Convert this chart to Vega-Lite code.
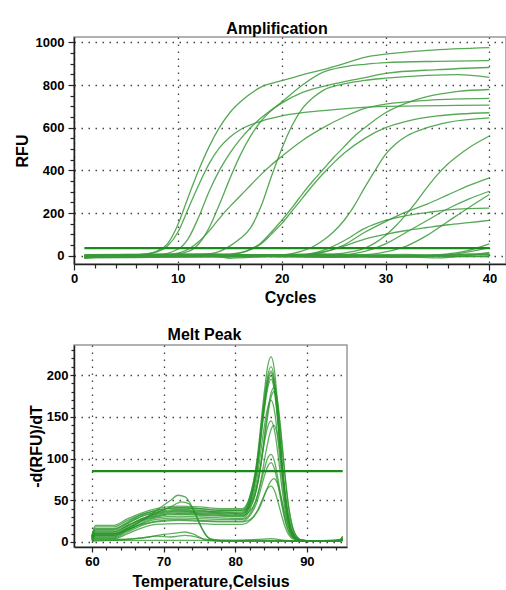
{
"$schema": "https://vega.github.io/schema/vega-lite/v6.json",
"padding": {"left": 13, "top": 20, "right": 0, "bottom": 0},
"background": "white",
"config": {
 "font": "Liberation Sans",
 "axis": {"labelFont": "Liberation Sans", "labelFontWeight": "bold", "labelFontSize": 13, "labelColor": "#000", "titleFont": "Liberation Sans", "titleFontWeight": "bold", "titleFontSize": 16, "titleColor": "#000", "domainColor": "#222", "domainWidth": 1.5, "tickColor": "#222", "tickWidth": 1.2, "gridColor": "#444", "gridDash": [1.5, 5.5], "gridWidth": 1.3, "labelFlush": false},
 "title": {"font": "Liberation Sans", "fontSize": 16, "fontWeight": "bold", "color": "#000", "offset": 2},
 "view": {"stroke": "#999", "strokeWidth": 1.5}
},
"datasets": {
"amp": [
{"s":"A","x":1,"y":0},{"s":"A","x":5,"y":2},{"s":"A","x":7,"y":8},{"s":"A","x":8,"y":22},{"s":"A","x":9,"y":55},{"s":"A","x":10,"y":145},{"s":"A","x":11,"y":275},{"s":"A","x":12,"y":400},{"s":"A","x":13,"y":510},{"s":"A","x":14,"y":600},{"s":"A","x":15,"y":670},{"s":"A","x":16,"y":720},{"s":"A","x":18,"y":790},{"s":"A","x":20,"y":820},{"s":"A","x":22,"y":848},{"s":"A","x":24,"y":872},{"s":"A","x":26,"y":900},{"s":"A","x":28,"y":930},{"s":"A","x":30,"y":945},{"s":"A","x":34,"y":962},{"s":"A","x":40,"y":975},
{"s":"B","x":1,"y":-2},{"s":"B","x":6,"y":4},{"s":"B","x":8,"y":18},{"s":"B","x":9,"y":45},{"s":"B","x":10,"y":110},{"s":"B","x":11,"y":220},{"s":"B","x":12,"y":330},{"s":"B","x":13,"y":430},{"s":"B","x":14,"y":505},{"s":"B","x":15,"y":555},{"s":"B","x":16,"y":590},{"s":"B","x":18,"y":630},{"s":"B","x":20,"y":655},{"s":"B","x":24,"y":680},{"s":"B","x":30,"y":700},{"s":"B","x":40,"y":706},
{"s":"C","x":1,"y":-5},{"s":"C","x":9,"y":3},{"s":"C","x":11,"y":20},{"s":"C","x":12,"y":55},{"s":"C","x":13,"y":130},{"s":"C","x":14,"y":240},{"s":"C","x":15,"y":360},{"s":"C","x":16,"y":470},{"s":"C","x":17,"y":560},{"s":"C","x":18,"y":630},{"s":"C","x":19,"y":680},{"s":"C","x":20,"y":720},{"s":"C","x":22,"y":800},{"s":"C","x":24,"y":860},{"s":"C","x":26,"y":885},{"s":"C","x":28,"y":897},{"s":"C","x":30,"y":905},{"s":"C","x":35,"y":911},{"s":"C","x":40,"y":914},
{"s":"D","x":1,"y":0},{"s":"D","x":8,"y":4},{"s":"D","x":10,"y":30},{"s":"D","x":11,"y":80},{"s":"D","x":12,"y":180},{"s":"D","x":13,"y":300},{"s":"D","x":14,"y":400},{"s":"D","x":15,"y":480},{"s":"D","x":16,"y":545},{"s":"D","x":17,"y":600},{"s":"D","x":18,"y":645},{"s":"D","x":20,"y":715},{"s":"D","x":22,"y":765},{"s":"D","x":25,"y":805},{"s":"D","x":28,"y":835},{"s":"D","x":30,"y":855},{"s":"D","x":35,"y":872},{"s":"D","x":40,"y":882},
{"s":"E","x":1,"y":-8},{"s":"E","x":12,"y":3},{"s":"E","x":14,"y":20},{"s":"E","x":15,"y":45},{"s":"E","x":16,"y":80},{"s":"E","x":17,"y":130},{"s":"E","x":18,"y":230},{"s":"E","x":19,"y":370},{"s":"E","x":20,"y":500},{"s":"E","x":21,"y":610},{"s":"E","x":22,"y":690},{"s":"E","x":23,"y":740},{"s":"E","x":24,"y":775},{"s":"E","x":26,"y":805},{"s":"E","x":28,"y":822},{"s":"E","x":30,"y":832},{"s":"E","x":34,"y":845},{"s":"E","x":37,"y":849},{"s":"E","x":40,"y":836},
{"s":"P","x":1,"y":2},{"s":"P","x":9,"y":5},{"s":"P","x":10,"y":12},{"s":"P","x":11,"y":30},{"s":"P","x":12,"y":65},{"s":"P","x":13,"y":115},{"s":"P","x":14,"y":175},{"s":"P","x":15,"y":230},{"s":"P","x":16,"y":280},{"s":"P","x":17,"y":330},{"s":"P","x":18,"y":380},{"s":"P","x":19,"y":425},{"s":"P","x":20,"y":465},{"s":"P","x":22,"y":540},{"s":"P","x":24,"y":600},{"s":"P","x":26,"y":650},{"s":"P","x":28,"y":690},{"s":"P","x":30,"y":710},{"s":"P","x":34,"y":728},{"s":"P","x":40,"y":737},
{"s":"F1","x":1,"y":-3},{"s":"F1","x":14,"y":4},{"s":"F1","x":16,"y":14},{"s":"F1","x":17,"y":30},{"s":"F1","x":18,"y":60},{"s":"F1","x":19,"y":110},{"s":"F1","x":20,"y":165},{"s":"F1","x":21,"y":225},{"s":"F1","x":22,"y":290},{"s":"F1","x":23,"y":350},{"s":"F1","x":24,"y":405},{"s":"F1","x":25,"y":460},{"s":"F1","x":26,"y":510},{"s":"F1","x":27,"y":560},{"s":"F1","x":28,"y":600},{"s":"F1","x":30,"y":670},{"s":"F1","x":32,"y":715},{"s":"F1","x":34,"y":745},{"s":"F1","x":37,"y":770},{"s":"F1","x":40,"y":779},
{"s":"F2","x":1,"y":0},{"s":"F2","x":15,"y":5},{"s":"F2","x":16,"y":12},{"s":"F2","x":17,"y":28},{"s":"F2","x":18,"y":55},{"s":"F2","x":19,"y":100},{"s":"F2","x":20,"y":150},{"s":"F2","x":21,"y":210},{"s":"F2","x":22,"y":270},{"s":"F2","x":23,"y":330},{"s":"F2","x":24,"y":385},{"s":"F2","x":25,"y":435},{"s":"F2","x":26,"y":480},{"s":"F2","x":28,"y":550},{"s":"F2","x":30,"y":600},{"s":"F2","x":32,"y":630},{"s":"F2","x":35,"y":655},{"s":"F2","x":40,"y":670},
{"s":"G","x":1,"y":-4},{"s":"G","x":20,"y":4},{"s":"G","x":22,"y":22},{"s":"G","x":23,"y":42},{"s":"G","x":24,"y":72},{"s":"G","x":25,"y":112},{"s":"G","x":26,"y":165},{"s":"G","x":27,"y":235},{"s":"G","x":28,"y":320},{"s":"G","x":29,"y":400},{"s":"G","x":30,"y":475},{"s":"G","x":31,"y":525},{"s":"G","x":32,"y":560},{"s":"G","x":34,"y":600},{"s":"G","x":36,"y":625},{"s":"G","x":40,"y":646},
{"s":"H","x":1,"y":-6},{"s":"H","x":24,"y":3},{"s":"H","x":26,"y":12},{"s":"H","x":28,"y":35},{"s":"H","x":29,"y":60},{"s":"H","x":30,"y":95},{"s":"H","x":31,"y":140},{"s":"H","x":32,"y":195},{"s":"H","x":33,"y":255},{"s":"H","x":34,"y":320},{"s":"H","x":35,"y":380},{"s":"H","x":36,"y":430},{"s":"H","x":37,"y":470},{"s":"H","x":38,"y":505},{"s":"H","x":40,"y":561},
{"s":"I","x":1,"y":-2},{"s":"I","x":22,"y":3},{"s":"I","x":24,"y":15},{"s":"I","x":26,"y":50},{"s":"I","x":28,"y":110},{"s":"I","x":30,"y":160},{"s":"I","x":32,"y":205},{"s":"I","x":34,"y":242},{"s":"I","x":36,"y":285},{"s":"I","x":38,"y":328},{"s":"I","x":40,"y":365},
{"s":"J","x":1,"y":-5},{"s":"J","x":22,"y":5},{"s":"J","x":24,"y":25},{"s":"J","x":26,"y":70},{"s":"J","x":28,"y":128},{"s":"J","x":30,"y":165},{"s":"J","x":32,"y":188},{"s":"J","x":34,"y":202},{"s":"J","x":36,"y":215},{"s":"J","x":38,"y":221},{"s":"J","x":40,"y":223},
{"s":"K","x":1,"y":-7},{"s":"K","x":26,"y":5},{"s":"K","x":28,"y":20},{"s":"K","x":30,"y":55},{"s":"K","x":32,"y":110},{"s":"K","x":34,"y":165},{"s":"K","x":36,"y":220},{"s":"K","x":38,"y":265},{"s":"K","x":40,"y":302},
{"s":"L","x":1,"y":-10},{"s":"L","x":28,"y":5},{"s":"L","x":30,"y":18},{"s":"L","x":32,"y":45},{"s":"L","x":34,"y":95},{"s":"L","x":36,"y":160},{"s":"L","x":38,"y":225},{"s":"L","x":40,"y":287},
{"s":"M","x":1,"y":3},{"s":"M","x":22,"y":4},{"s":"M","x":24,"y":18},{"s":"M","x":26,"y":45},{"s":"M","x":28,"y":78},{"s":"M","x":30,"y":100},{"s":"M","x":32,"y":118},{"s":"M","x":34,"y":132},{"s":"M","x":36,"y":145},{"s":"M","x":38,"y":155},{"s":"M","x":40,"y":165},
{"s":"N","x":1,"y":-4},{"s":"N","x":30,"y":-3},{"s":"N","x":34,"y":0},{"s":"N","x":36,"y":8},{"s":"N","x":38,"y":25},{"s":"N","x":40,"y":55},
{"s":"N0","x":1,"y":-6},{"s":"N0","x":30,"y":-4},{"s":"N0","x":35,"y":2},{"s":"N0","x":37,"y":10},{"s":"N0","x":40,"y":38},
{"s":"N1","x":1,"y":-8},{"s":"N1","x":3,"y":-3},{"s":"N1","x":5,"y":0},{"s":"N1","x":8,"y":3},{"s":"N1","x":10,"y":5},{"s":"N1","x":12,"y":2},{"s":"N1","x":14,"y":-5},{"s":"N1","x":15,"y":-12},{"s":"N1","x":16,"y":-10},{"s":"N1","x":18,"y":-5},{"s":"N1","x":20,"y":0},{"s":"N1","x":22,"y":3},{"s":"N1","x":25,"y":5},{"s":"N1","x":28,"y":0},{"s":"N1","x":30,"y":2},{"s":"N1","x":33,"y":-3},{"s":"N1","x":36,"y":2},{"s":"N1","x":38,"y":8},{"s":"N1","x":40,"y":10},
{"s":"N2","x":1,"y":-3},{"s":"N2","x":4,"y":2},{"s":"N2","x":7,"y":5},{"s":"N2","x":10,"y":8},{"s":"N2","x":13,"y":10},{"s":"N2","x":16,"y":5},{"s":"N2","x":19,"y":2},{"s":"N2","x":22,"y":-3},{"s":"N2","x":25,"y":-5},{"s":"N2","x":28,"y":-2},{"s":"N2","x":31,"y":0},{"s":"N2","x":34,"y":3},{"s":"N2","x":37,"y":5},{"s":"N2","x":40,"y":3},
{"s":"N3","x":1,"y":-10},{"s":"N3","x":3,"y":-5},{"s":"N3","x":6,"y":0},{"s":"N3","x":9,"y":-2},{"s":"N3","x":12,"y":0},{"s":"N3","x":15,"y":3},{"s":"N3","x":18,"y":5},{"s":"N3","x":21,"y":3},{"s":"N3","x":24,"y":0},{"s":"N3","x":27,"y":-5},{"s":"N3","x":30,"y":-8},{"s":"N3","x":33,"y":-5},{"s":"N3","x":36,"y":-3},{"s":"N3","x":40,"y":-5},
{"s":"N4","x":1,"y":5},{"s":"N4","x":5,"y":6},{"s":"N4","x":10,"y":4},{"s":"N4","x":15,"y":0},{"s":"N4","x":20,"y":-5},{"s":"N4","x":25,"y":-8},{"s":"N4","x":30,"y":-3},{"s":"N4","x":35,"y":-10},{"s":"N4","x":40,"y":15},
{"s":"N5","x":1,"y":-12},{"s":"N5","x":3,"y":-6},{"s":"N5","x":6,"y":-2},{"s":"N5","x":10,"y":0},{"s":"N5","x":14,"y":-3},{"s":"N5","x":18,"y":2},{"s":"N5","x":22,"y":6},{"s":"N5","x":26,"y":2},{"s":"N5","x":30,"y":-2},{"s":"N5","x":34,"y":1},{"s":"N5","x":37,"y":-4},{"s":"N5","x":40,"y":-2},
{"s":"N6","x":1,"y":0},{"s":"N6","x":4,"y":4},{"s":"N6","x":8,"y":7},{"s":"N6","x":12,"y":4},{"s":"N6","x":16,"y":-2},{"s":"N6","x":20,"y":4},{"s":"N6","x":24,"y":8},{"s":"N6","x":28,"y":4},{"s":"N6","x":32,"y":6},{"s":"N6","x":36,"y":0},{"s":"N6","x":40,"y":6}
],
"ampThr": [{"s":"T","x":1,"y":35},{"s":"T","x":40,"y":35}],
"melt": [
{"s":"m1","x":60,"y":7},{"s":"m1","x":60.5,"y":18},{"s":"m1","x":63,"y":18},{"s":"m1","x":65,"y":26},{"s":"m1","x":67,"y":33},{"s":"m1","x":69,"y":38},{"s":"m1","x":72,"y":41},{"s":"m1","x":75,"y":40},{"s":"m1","x":78,"y":38},{"s":"m1","x":81,"y":38},{"s":"m1","x":82,"y":53},{"s":"m1","x":83,"y":96},{"s":"m1","x":84,"y":175},{"s":"m1","x":84.5,"y":209},{"s":"m1","x":85,"y":222},{"s":"m1","x":85.5,"y":204},{"s":"m1","x":86,"y":157},{"s":"m1","x":86.5,"y":102},{"s":"m1","x":87,"y":55},{"s":"m1","x":88,"y":11},{"s":"m1","x":89,"y":2},{"s":"m1","x":92,"y":1},{"s":"m1","x":94.5,"y":2},{"s":"m1","x":95,"y":6},
{"s":"m2","x":60,"y":6},{"s":"m2","x":60.5,"y":14},{"s":"m2","x":63,"y":14},{"s":"m2","x":65,"y":22},{"s":"m2","x":67,"y":31},{"s":"m2","x":69,"y":36},{"s":"m2","x":72,"y":39},{"s":"m2","x":75,"y":38},{"s":"m2","x":78,"y":36},{"s":"m2","x":81,"y":36},{"s":"m2","x":82,"y":50},{"s":"m2","x":83,"y":91},{"s":"m2","x":84,"y":166},{"s":"m2","x":84.5,"y":198},{"s":"m2","x":85,"y":210},{"s":"m2","x":85.5,"y":193},{"s":"m2","x":86,"y":148},{"s":"m2","x":86.5,"y":96},{"s":"m2","x":87,"y":52},{"s":"m2","x":88,"y":10},{"s":"m2","x":89,"y":2},{"s":"m2","x":92,"y":1},{"s":"m2","x":95,"y":2},
{"s":"m3","x":60,"y":4},{"s":"m3","x":60.5,"y":10},{"s":"m3","x":63,"y":10},{"s":"m3","x":65,"y":19},{"s":"m3","x":67,"y":28},{"s":"m3","x":69,"y":34},{"s":"m3","x":72,"y":37},{"s":"m3","x":75,"y":36},{"s":"m3","x":78,"y":35},{"s":"m3","x":81,"y":34},{"s":"m3","x":82,"y":48},{"s":"m3","x":83,"y":87},{"s":"m3","x":84,"y":160},{"s":"m3","x":84.5,"y":191},{"s":"m3","x":85,"y":203},{"s":"m3","x":85.5,"y":186},{"s":"m3","x":86,"y":144},{"s":"m3","x":86.5,"y":93},{"s":"m3","x":87,"y":51},{"s":"m3","x":88,"y":10},{"s":"m3","x":89,"y":2},{"s":"m3","x":92,"y":1},{"s":"m3","x":94.5,"y":1},{"s":"m3","x":95,"y":5},
{"s":"m4","x":60,"y":5},{"s":"m4","x":60.5,"y":12},{"s":"m4","x":63,"y":12},{"s":"m4","x":65,"y":20},{"s":"m4","x":67,"y":28},{"s":"m4","x":69,"y":33},{"s":"m4","x":72,"y":36},{"s":"m4","x":75,"y":35},{"s":"m4","x":78,"y":34},{"s":"m4","x":81,"y":33},{"s":"m4","x":82,"y":47},{"s":"m4","x":83,"y":85},{"s":"m4","x":84,"y":157},{"s":"m4","x":84.5,"y":187},{"s":"m4","x":85,"y":199},{"s":"m4","x":85.5,"y":182},{"s":"m4","x":86,"y":141},{"s":"m4","x":86.5,"y":91},{"s":"m4","x":87,"y":50},{"s":"m4","x":88,"y":10},{"s":"m4","x":89,"y":2},{"s":"m4","x":92,"y":1},{"s":"m4","x":95,"y":2},
{"s":"m5","x":60,"y":3},{"s":"m5","x":60.5,"y":8},{"s":"m5","x":63,"y":8},{"s":"m5","x":65,"y":17},{"s":"m5","x":67,"y":26},{"s":"m5","x":69,"y":31},{"s":"m5","x":72,"y":34},{"s":"m5","x":75,"y":33},{"s":"m5","x":78,"y":32},{"s":"m5","x":81,"y":31},{"s":"m5","x":82,"y":44},{"s":"m5","x":83,"y":83},{"s":"m5","x":84,"y":154},{"s":"m5","x":84.5,"y":183},{"s":"m5","x":85,"y":195},{"s":"m5","x":85.5,"y":179},{"s":"m5","x":86,"y":138},{"s":"m5","x":86.5,"y":89},{"s":"m5","x":87,"y":49},{"s":"m5","x":88,"y":10},{"s":"m5","x":89,"y":2},{"s":"m5","x":92,"y":1},{"s":"m5","x":95,"y":2},
{"s":"m6","x":60,"y":6},{"s":"m6","x":60.5,"y":16},{"s":"m6","x":63,"y":16},{"s":"m6","x":65,"y":23},{"s":"m6","x":67,"y":31},{"s":"m6","x":69,"y":35},{"s":"m6","x":72,"y":38},{"s":"m6","x":75,"y":37},{"s":"m6","x":78,"y":36},{"s":"m6","x":81,"y":35},{"s":"m6","x":82.4,"y":47},{"s":"m6","x":83.4,"y":81},{"s":"m6","x":84.4,"y":143},{"s":"m6","x":84.9,"y":170},{"s":"m6","x":85.4,"y":180},{"s":"m6","x":85.9,"y":165},{"s":"m6","x":86.4,"y":127},{"s":"m6","x":86.9,"y":82},{"s":"m6","x":87.4,"y":45},{"s":"m6","x":88.4,"y":9},{"s":"m6","x":89.4,"y":2},{"s":"m6","x":92,"y":1},{"s":"m6","x":94.5,"y":2},{"s":"m6","x":95,"y":7},
{"s":"m7","x":60,"y":4},{"s":"m7","x":60.5,"y":9},{"s":"m7","x":63,"y":9},{"s":"m7","x":65,"y":17},{"s":"m7","x":67,"y":25},{"s":"m7","x":69,"y":30},{"s":"m7","x":72,"y":33},{"s":"m7","x":75,"y":32},{"s":"m7","x":78,"y":31},{"s":"m7","x":81,"y":30},{"s":"m7","x":82,"y":42},{"s":"m7","x":83,"y":74},{"s":"m7","x":84,"y":135},{"s":"m7","x":84.5,"y":160},{"s":"m7","x":85,"y":170},{"s":"m7","x":85.5,"y":156},{"s":"m7","x":86,"y":120},{"s":"m7","x":86.5,"y":78},{"s":"m7","x":87,"y":42},{"s":"m7","x":88,"y":8},{"s":"m7","x":89,"y":2},{"s":"m7","x":92,"y":1},{"s":"m7","x":95,"y":2},
{"s":"m8","x":60,"y":2},{"s":"m8","x":60.5,"y":6},{"s":"m8","x":63,"y":6},{"s":"m8","x":65,"y":14},{"s":"m8","x":67,"y":23},{"s":"m8","x":69,"y":29},{"s":"m8","x":72,"y":31},{"s":"m8","x":75,"y":30},{"s":"m8","x":78,"y":29},{"s":"m8","x":81,"y":28},{"s":"m8","x":82,"y":38},{"s":"m8","x":83,"y":65},{"s":"m8","x":84,"y":116},{"s":"m8","x":84.5,"y":137},{"s":"m8","x":85,"y":145},{"s":"m8","x":85.5,"y":133},{"s":"m8","x":86,"y":103},{"s":"m8","x":86.5,"y":66},{"s":"m8","x":87,"y":36},{"s":"m8","x":88,"y":7},{"s":"m8","x":89,"y":2},{"s":"m8","x":92,"y":1},{"s":"m8","x":94.5,"y":1},{"s":"m8","x":95,"y":4},
{"s":"m9","x":60,"y":5},{"s":"m9","x":60.5,"y":12},{"s":"m9","x":63,"y":12},{"s":"m9","x":65,"y":20},{"s":"m9","x":67,"y":27},{"s":"m9","x":69,"y":32},{"s":"m9","x":72,"y":35},{"s":"m9","x":75,"y":34},{"s":"m9","x":78,"y":33},{"s":"m9","x":81,"y":32},{"s":"m9","x":82.4,"y":41},{"s":"m9","x":83.4,"y":66},{"s":"m9","x":84.4,"y":113},{"s":"m9","x":84.9,"y":132},{"s":"m9","x":85.4,"y":140},{"s":"m9","x":85.9,"y":128},{"s":"m9","x":86.4,"y":99},{"s":"m9","x":86.9,"y":64},{"s":"m9","x":87.4,"y":35},{"s":"m9","x":88.4,"y":7},{"s":"m9","x":89.4,"y":2},{"s":"m9","x":92,"y":1},{"s":"m9","x":95,"y":2},
{"s":"m10","x":60,"y":3},{"s":"m10","x":60.5,"y":7},{"s":"m10","x":63,"y":7},{"s":"m10","x":65,"y":14},{"s":"m10","x":67,"y":22},{"s":"m10","x":69,"y":27},{"s":"m10","x":72,"y":29},{"s":"m10","x":75,"y":28},{"s":"m10","x":78,"y":27},{"s":"m10","x":81,"y":27},{"s":"m10","x":82,"y":33},{"s":"m10","x":83,"y":52},{"s":"m10","x":84,"y":85},{"s":"m10","x":84.5,"y":100},{"s":"m10","x":85,"y":105},{"s":"m10","x":85.5,"y":96},{"s":"m10","x":86,"y":74},{"s":"m10","x":86.5,"y":48},{"s":"m10","x":87,"y":26},{"s":"m10","x":88,"y":6},{"s":"m10","x":89,"y":2},{"s":"m10","x":92,"y":1},{"s":"m10","x":95,"y":2},
{"s":"m11","x":60,"y":2},{"s":"m11","x":60.5,"y":5},{"s":"m11","x":63,"y":5},{"s":"m11","x":65,"y":12},{"s":"m11","x":67,"y":20},{"s":"m11","x":69,"y":25},{"s":"m11","x":72,"y":27},{"s":"m11","x":75,"y":26},{"s":"m11","x":78,"y":25},{"s":"m11","x":81,"y":25},{"s":"m11","x":82,"y":31},{"s":"m11","x":83,"y":47},{"s":"m11","x":84,"y":77},{"s":"m11","x":84.5,"y":90},{"s":"m11","x":85,"y":95},{"s":"m11","x":85.5,"y":87},{"s":"m11","x":86,"y":67},{"s":"m11","x":86.5,"y":44},{"s":"m11","x":87,"y":24},{"s":"m11","x":88,"y":5},{"s":"m11","x":89,"y":2},{"s":"m11","x":92,"y":1},{"s":"m11","x":95,"y":2},
{"s":"m12","x":60,"y":4},{"s":"m12","x":60.5,"y":10},{"s":"m12","x":63,"y":10},{"s":"m12","x":65,"y":15},{"s":"m12","x":67,"y":21},{"s":"m12","x":69,"y":24},{"s":"m12","x":72,"y":26},{"s":"m12","x":75,"y":25},{"s":"m12","x":78,"y":24},{"s":"m12","x":81,"y":24},{"s":"m12","x":82.4,"y":29},{"s":"m12","x":83.4,"y":41},{"s":"m12","x":84.4,"y":63},{"s":"m12","x":84.9,"y":72},{"s":"m12","x":85.4,"y":76},{"s":"m12","x":85.9,"y":70},{"s":"m12","x":86.4,"y":54},{"s":"m12","x":86.9,"y":35},{"s":"m12","x":87.4,"y":19},{"s":"m12","x":88.4,"y":4},{"s":"m12","x":89.4,"y":2},{"s":"m12","x":92,"y":1},{"s":"m12","x":95,"y":2},
{"s":"m13","x":60,"y":2},{"s":"m13","x":60.5,"y":4},{"s":"m13","x":63,"y":4},{"s":"m13","x":65,"y":10},{"s":"m13","x":67,"y":17},{"s":"m13","x":69,"y":21},{"s":"m13","x":72,"y":22},{"s":"m13","x":75,"y":22},{"s":"m13","x":78,"y":21},{"s":"m13","x":81,"y":21},{"s":"m13","x":82,"y":25},{"s":"m13","x":83,"y":36},{"s":"m13","x":84,"y":55},{"s":"m13","x":84.5,"y":64},{"s":"m13","x":85,"y":67},{"s":"m13","x":85.5,"y":61},{"s":"m13","x":86,"y":47},{"s":"m13","x":86.5,"y":31},{"s":"m13","x":87,"y":17},{"s":"m13","x":88,"y":4},{"s":"m13","x":89,"y":2},{"s":"m13","x":92,"y":1},{"s":"m13","x":95,"y":2},
{"s":"m14","x":60,"y":6},{"s":"m14","x":60.5,"y":15},{"s":"m14","x":63,"y":15},{"s":"m14","x":65,"y":24},{"s":"m14","x":67,"y":33},{"s":"m14","x":69,"y":38},{"s":"m14","x":72,"y":41},{"s":"m14","x":75,"y":40},{"s":"m14","x":78,"y":38},{"s":"m14","x":81,"y":38},{"s":"m14","x":82.4,"y":50},{"s":"m14","x":83.4,"y":84},{"s":"m14","x":84.4,"y":148},{"s":"m14","x":84.9,"y":175},{"s":"m14","x":85.4,"y":185},{"s":"m14","x":85.9,"y":170},{"s":"m14","x":86.4,"y":131},{"s":"m14","x":86.9,"y":85},{"s":"m14","x":87.4,"y":46},{"s":"m14","x":88.4,"y":9},{"s":"m14","x":89.4,"y":2},{"s":"m14","x":92,"y":1},{"s":"m14","x":95,"y":2},
{"s":"m15","x":60,"y":8},{"s":"m15","x":60.5,"y":20},{"s":"m15","x":63,"y":20},{"s":"m15","x":65,"y":28},{"s":"m15","x":67,"y":35},{"s":"m15","x":69,"y":40},{"s":"m15","x":72,"y":43},{"s":"m15","x":75,"y":42},{"s":"m15","x":78,"y":40},{"s":"m15","x":81,"y":40},{"s":"m15","x":82,"y":53},{"s":"m15","x":83,"y":92},{"s":"m15","x":84,"y":163},{"s":"m15","x":84.5,"y":193},{"s":"m15","x":85,"y":205},{"s":"m15","x":85.5,"y":188},{"s":"m15","x":86,"y":145},{"s":"m15","x":86.5,"y":94},{"s":"m15","x":87,"y":51},{"s":"m15","x":88,"y":10},{"s":"m15","x":89,"y":2},{"s":"m15","x":92,"y":1},{"s":"m15","x":95,"y":2},
{"s":"q1","x":60,"y":4},{"s":"q1","x":60.5,"y":10},{"s":"q1","x":63,"y":10},{"s":"q1","x":65,"y":16},{"s":"q1","x":67,"y":26},{"s":"q1","x":69,"y":38},{"s":"q1","x":71,"y":50},{"s":"q1","x":72,"y":56},{"s":"q1","x":73,"y":54},{"s":"q1","x":74,"y":42},{"s":"q1","x":75,"y":22},{"s":"q1","x":76,"y":7},{"s":"q1","x":77,"y":2},{"s":"q1","x":80,"y":1},{"s":"q1","x":85,"y":1},{"s":"q1","x":90,"y":1},{"s":"q1","x":95,"y":2},
{"s":"q2","x":60,"y":3},{"s":"q2","x":60.5,"y":8},{"s":"q2","x":63,"y":8},{"s":"q2","x":65,"y":15},{"s":"q2","x":67,"y":26},{"s":"q2","x":69,"y":35},{"s":"q2","x":71,"y":42},{"s":"q2","x":72.5,"y":48},{"s":"q2","x":73.5,"y":46},{"s":"q2","x":74.5,"y":33},{"s":"q2","x":75.5,"y":14},{"s":"q2","x":76.5,"y":4},{"s":"q2","x":78,"y":2},{"s":"q2","x":85,"y":2},{"s":"q2","x":90,"y":1},{"s":"q2","x":95,"y":2},
{"s":"q3","x":60,"y":1},{"s":"q3","x":60.5,"y":3},{"s":"q3","x":63,"y":3},{"s":"q3","x":66,"y":4},{"s":"q3","x":68,"y":6},{"s":"q3","x":70,"y":9},{"s":"q3","x":72,"y":11},{"s":"q3","x":73,"y":12},{"s":"q3","x":74,"y":10},{"s":"q3","x":75,"y":6},{"s":"q3","x":76,"y":2},{"s":"q3","x":80,"y":1},{"s":"q3","x":95,"y":1},
{"s":"q4","x":60,"y":1},{"s":"q4","x":60.5,"y":2},{"s":"q4","x":63,"y":2},{"s":"q4","x":67,"y":5},{"s":"q4","x":69,"y":7},{"s":"q4","x":71,"y":6},{"s":"q4","x":73,"y":8},{"s":"q4","x":74,"y":7},{"s":"q4","x":76,"y":3},{"s":"q4","x":80,"y":2},{"s":"q4","x":83,"y":3},{"s":"q4","x":85,"y":4},{"s":"q4","x":87,"y":2},{"s":"q4","x":90,"y":1},{"s":"q4","x":95,"y":3},
{"s":"q5","x":60,"y":1},{"s":"q5","x":63,"y":2},{"s":"q5","x":70,"y":2},{"s":"q5","x":75,"y":2},{"s":"q5","x":80,"y":1},{"s":"q5","x":85,"y":1},{"s":"q5","x":90,"y":1},{"s":"q5","x":95,"y":2}
],
"meltThr": [{"s":"T","x":60,"y":85},{"s":"T","x":95,"y":85}]
},
"spacing": 20,
"vconcat": [
{
 "width": 432, "height": 227,
 "title": {"text": "Amplification", "dx": -13, "dy": 3},
 "resolve": {"axis": {"x": "independent", "y": "independent"}},
 "layer": [
  {"data": {"name": "amp"},
   "mark": {"type": "line", "interpolate": "monotone", "strokeWidth": 1.3, "color": "#3a9a3a", "opacity": 0.85, "clip": true},
   "encoding": {
    "x": {"field": "x", "type": "quantitative", "scale": {"domain": [0, 41.6], "nice": false, "zero": false},
      "axis": {"title": "Cycles", "orient": "bottom", "values": [0,10,20,30,40], "format": "d", "grid": true, "tickSize": 6, "labelPadding": 2, "titlePadding": 4}},
    "y": {"field": "y", "type": "quantitative", "scale": {"domain": [-39, 1025], "nice": false, "zero": false},
      "axis": {"title": "RFU", "orient": "left", "values": [0,200,400,600,800,1000], "format": "d", "grid": true, "tickSize": 6, "labelPadding": 4, "titlePadding": 5}},
    "detail": {"field": "s", "type": "nominal"}
   }},
  {"data": {"name": "ampThr"},
   "mark": {"type": "line", "strokeWidth": 2.2, "color": "#1a8a1a"},
   "encoding": {
    "x": {"field": "x", "type": "quantitative", "axis": {"orient": "bottom", "values": [2,4,6,8,12,14,16,18,22,24,26,28,32,34,36,38], "labels": false, "grid": false, "domain": false, "title": null, "tickSize": 4, "offset": 0}},
    "y": {"field": "y", "type": "quantitative", "axis": {"orient": "left", "values": [50,100,150,250,300,350,450,500,550,650,700,750,850,900,950], "labels": false, "grid": false, "domain": false, "title": null, "tickSize": 4, "offset": 0}}
   }}
 ]
},
{
   "width": 273, "height": 202,
   "title": {"text": "Melt Peak", "dx": -6},
   "resolve": {"axis": {"x": "independent", "y": "independent"}},
   "layer": [
    {"data": {"name": "melt"},
     "mark": {"type": "line", "interpolate": "monotone", "strokeWidth": 1.3, "color": "#2a942a", "opacity": 0.75, "clip": true},
     "encoding": {
      "x": {"field": "x", "type": "quantitative", "scale": {"domain": [57.5, 95.6], "nice": false, "zero": false},
        "axis": {"title": "Temperature,Celsius", "orient": "bottom", "values": [60,70,80,90], "format": "d", "grid": true, "tickSize": 5, "labelPadding": 3, "titlePadding": 5}},
      "y": {"field": "y", "type": "quantitative", "scale": {"domain": [-6, 236], "nice": false, "zero": false},
        "axis": {"title": "-d(RFU)/dT", "orient": "left", "values": [0,50,100,150,200], "format": "d", "grid": true, "tickSize": 4, "labelPadding": 2, "titlePadding": 2}},
      "detail": {"field": "s", "type": "nominal"}
     }},
    {"data": {"name": "meltThr"},
     "mark": {"type": "line", "strokeWidth": 2.2, "color": "#1a8a1a"},
     "encoding": {
      "x": {"field": "x", "type": "quantitative", "axis": {"orient": "bottom", "values": [62,64,66,68,72,74,76,78,82,84,86,88,92,94], "labels": false, "grid": false, "domain": false, "title": null, "tickSize": 3, "offset": 0}},
      "y": {"field": "y", "type": "quantitative", "axis": {"orient": "left", "values": [10,20,30,40,60,70,80,90,110,120,130,140,160,170,180,190,210,220,230], "labels": false, "grid": false, "domain": false, "title": null, "tickSize": 3, "offset": 0}}
     }}
   ]
}
]
}
